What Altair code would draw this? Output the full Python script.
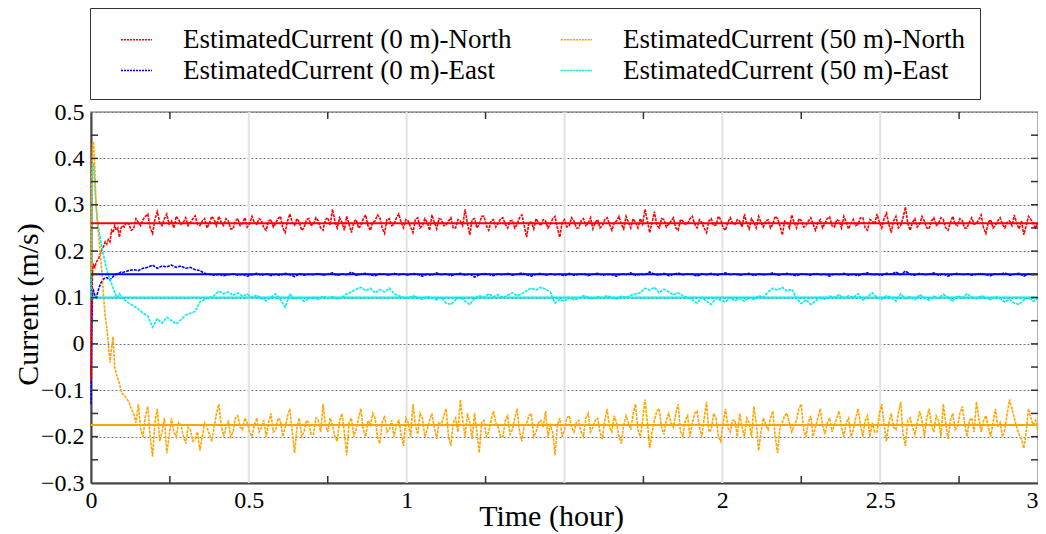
import altair as alt
import pandas as pd

FONT = "Liberation Serif"

series_names = [
    "EstimatedCurrent (0 m)-North",
    "EstimatedCurrent (0 m)-East",
    "EstimatedCurrent (50 m)-North",
    "EstimatedCurrent (50 m)-East",
]
series_colors = ["#ff0000", "#0000ff", "#ffa500", "#00eeee"]
true_values = [0.26, 0.15, -0.175, 0.1]

# time samples (hours)
time_early = [0.0, 0.002, 0.005, 0.008, 0.012, 0.016, 0.020, 0.025, 0.030, 0.035,
              0.040, 0.045, 0.050, 0.055, 0.060, 0.065, 0.070, 0.075, 0.080, 0.085,
              0.090, 0.095, 0.100]
time_main = [round(0.105 + 0.015 * i, 4) for i in range(194)]
time_mid = [round(0.1125 + 0.015 * i, 4) for i in range(193)]

north0_early = [-0.08, 0.08, 0.16, 0.17, 0.165, 0.175, 0.18, 0.185, 0.195, 0.205,
                0.21, 0.22, 0.215, 0.225, 0.22, 0.245, 0.24, 0.255, 0.245, 0.25,
                0.23, 0.25, 0.255]
north0_main = [
    0.252, 0.258, 0.248, 0.262, 0.268, 0.28, 0.238, 0.285, 0.255, 0.28,
    0.265, 0.275, 0.258, 0.272, 0.262, 0.276, 0.255, 0.27, 0.26, 0.268,
    0.275, 0.255, 0.265, 0.248, 0.27, 0.26, 0.252, 0.275, 0.258, 0.266,
    0.245, 0.268, 0.26, 0.275, 0.24, 0.28, 0.256, 0.262, 0.25, 0.27,
    0.258, 0.265, 0.245, 0.272, 0.29, 0.25, 0.262, 0.275, 0.24, 0.268,
    0.255, 0.278, 0.245, 0.265, 0.272, 0.238, 0.27, 0.258, 0.28, 0.25,
    0.265, 0.24, 0.272, 0.255, 0.262, 0.278, 0.248, 0.268, 0.256, 0.272,
    0.25, 0.265, 0.29, 0.235, 0.27, 0.258, 0.275, 0.245, 0.268, 0.26,
    0.272, 0.25, 0.266, 0.258, 0.278, 0.23, 0.262, 0.27, 0.255, 0.265,
    0.258, 0.275, 0.23, 0.268, 0.255, 0.265, 0.25, 0.27, 0.26, 0.248,
    0.268, 0.255, 0.272, 0.245, 0.265, 0.258, 0.275, 0.25, 0.262, 0.27,
    0.29, 0.24, 0.285, 0.25, 0.268, 0.258, 0.272, 0.245, 0.265, 0.26,
    0.275, 0.25, 0.262, 0.24, 0.27, 0.256, 0.268, 0.245, 0.272, 0.258,
    0.265, 0.28, 0.248, 0.262, 0.275, 0.252, 0.268, 0.258, 0.27, 0.235,
    0.262, 0.278, 0.25, 0.266, 0.255, 0.272, 0.245, 0.268, 0.26, 0.274,
    0.252, 0.265, 0.275, 0.248, 0.268, 0.258, 0.272, 0.245, 0.265, 0.28,
    0.25, 0.282, 0.24, 0.275, 0.255, 0.295, 0.245, 0.27, 0.258, 0.265,
    0.248, 0.272, 0.26, 0.268, 0.245, 0.275, 0.255, 0.266, 0.25, 0.272,
    0.26, 0.278, 0.238, 0.268, 0.255, 0.272, 0.25, 0.265, 0.278, 0.248,
    0.235, 0.275, 0.258, 0.262,
]
north0_mid = [
    0.262, 0.245, 0.27, 0.255, 0.275, 0.25, 0.268, 0.262, 0.27, 0.258,
    0.25, 0.268, 0.262, 0.255, 0.27, 0.258, 0.265, 0.25, 0.275, 0.255,
    0.262, 0.27, 0.248, 0.265, 0.255, 0.272, 0.26, 0.262, 0.27, 0.25,
    0.265, 0.252, 0.27, 0.25, 0.265, 0.262, 0.27, 0.245, 0.268, 0.256,
    0.272, 0.25, 0.268, 0.256, 0.265, 0.272, 0.245, 0.258, 0.262, 0.25,
    0.27, 0.255, 0.262, 0.278, 0.25, 0.268, 0.255, 0.272, 0.262, 0.268,
    0.252, 0.268, 0.25, 0.27, 0.245, 0.262, 0.27, 0.255, 0.265, 0.25,
    0.268, 0.255, 0.26, 0.268, 0.25, 0.275, 0.255, 0.265, 0.252, 0.27,
    0.258, 0.265, 0.25, 0.272, 0.255, 0.262, 0.248, 0.262, 0.268, 0.25,
    0.27, 0.25, 0.262, 0.252, 0.272, 0.25, 0.265, 0.255, 0.272, 0.262,
    0.25, 0.268, 0.258, 0.262, 0.275, 0.248, 0.262, 0.27, 0.25, 0.258,
    0.265, 0.262, 0.255, 0.27, 0.252, 0.265, 0.25, 0.268, 0.258, 0.27,
    0.258, 0.268, 0.25, 0.265, 0.255, 0.275, 0.25, 0.262, 0.26, 0.268,
    0.252, 0.26, 0.27, 0.25, 0.262, 0.265, 0.25, 0.275, 0.255, 0.265,
    0.25, 0.262, 0.27, 0.252, 0.265, 0.258, 0.26, 0.25, 0.27, 0.255,
    0.268, 0.25, 0.262, 0.26, 0.255, 0.272, 0.25, 0.268, 0.258, 0.262,
    0.27, 0.258, 0.265, 0.25, 0.272, 0.26, 0.262, 0.252, 0.275, 0.25,
    0.265, 0.255, 0.272, 0.25, 0.262, 0.258, 0.27, 0.25, 0.262, 0.258,
    0.268, 0.25, 0.262, 0.25, 0.265, 0.258, 0.262, 0.255, 0.26, 0.265,
    0.255, 0.268, 0.25,
]

north50_early = [0.15, 0.35, 0.43, 0.435, 0.38, 0.3, 0.26, 0.23, 0.19, 0.15,
                 0.1, 0.06, 0.035, 0.0, -0.04, -0.01, 0.015, -0.05, -0.065, -0.075,
                 -0.085, -0.1, -0.108]
north50_main = [
    -0.11, -0.125, -0.15, -0.13, -0.2, -0.135, -0.243, -0.14, -0.19, -0.236,
    -0.16, -0.2, -0.175, -0.215, -0.185, -0.205, -0.23, -0.17, -0.195, -0.18,
    -0.13, -0.2, -0.165, -0.19, -0.155, -0.185, -0.17, -0.2, -0.16, -0.18,
    -0.2, -0.15, -0.185, -0.165, -0.18, -0.14, -0.235, -0.16, -0.19, -0.17,
    -0.195, -0.165, -0.13, -0.19, -0.175, -0.21, -0.15, -0.24, -0.16, -0.185,
    -0.14, -0.2, -0.175, -0.16, -0.215, -0.155, -0.185, -0.2, -0.165, -0.22,
    -0.17, -0.13, -0.195, -0.16, -0.185, -0.15, -0.205, -0.175, -0.14, -0.22,
    -0.16, -0.12, -0.2, -0.17, -0.15, -0.235, -0.165, -0.19, -0.145, -0.18,
    -0.2, -0.155, -0.185, -0.14, -0.21, -0.17, -0.15, -0.19, -0.165, -0.145,
    -0.175, -0.24, -0.16, -0.185, -0.155, -0.19, -0.165, -0.2, -0.15, -0.18,
    -0.16, -0.205, -0.14, -0.19, -0.17, -0.215, -0.155, -0.185, -0.13, -0.2,
    -0.12, -0.225, -0.165, -0.14, -0.195, -0.15, -0.18, -0.13, -0.2, -0.155,
    -0.17, -0.145, -0.2, -0.125, -0.185, -0.16, -0.21, -0.14, -0.19, -0.165,
    -0.15, -0.2, -0.17, -0.135, -0.23, -0.16, -0.185, -0.145, -0.235, -0.17,
    -0.15, -0.19, -0.165, -0.13, -0.2, -0.155, -0.18, -0.14, -0.195, -0.16,
    -0.175, -0.145, -0.2, -0.16, -0.185, -0.14, -0.2, -0.155, -0.17, -0.19,
    -0.13, -0.21, -0.15, -0.185, -0.125, -0.22, -0.16, -0.195, -0.145, -0.2,
    -0.14, -0.19, -0.165, -0.13, -0.205, -0.15, -0.18, -0.135, -0.2, -0.16,
    -0.125, -0.19, -0.155, -0.2, -0.14, -0.17, -0.185, -0.12, -0.16, -0.195,
    -0.225, -0.14, -0.175, -0.19,
]
north50_mid = [
    -0.118, -0.14, -0.17, -0.185, -0.155, -0.2, -0.17, -0.21, -0.16, -0.2,
    -0.19, -0.17, -0.2, -0.18, -0.21, -0.19, -0.2, -0.18, -0.21, -0.15,
    -0.175, -0.18, -0.2, -0.16, -0.18, -0.16, -0.19, -0.175, -0.19, -0.165,
    -0.17, -0.19, -0.16, -0.2, -0.155, -0.19, -0.18, -0.2, -0.165, -0.195,
    -0.16, -0.19, -0.175, -0.16, -0.2, -0.165, -0.19, -0.17, -0.2, -0.16,
    -0.185, -0.165, -0.15, -0.2, -0.17, -0.19, -0.165, -0.175, -0.195, -0.16,
    -0.2, -0.175, -0.15, -0.2, -0.165, -0.18, -0.17, -0.155, -0.2, -0.17,
    -0.19, -0.165, -0.15, -0.205, -0.19, -0.17, -0.2, -0.165, -0.17, -0.2,
    -0.165, -0.195, -0.16, -0.19, -0.175, -0.155, -0.2, -0.17, -0.18, -0.2,
    -0.19, -0.175, -0.2, -0.16, -0.18, -0.17, -0.19, -0.16, -0.19, -0.165,
    -0.19, -0.165, -0.18, -0.155, -0.2, -0.175, -0.17, -0.15, -0.185, -0.165,
    -0.17, -0.19, -0.145, -0.18, -0.165, -0.17, -0.15, -0.19, -0.165, -0.2,
    -0.15, -0.18, -0.16, -0.19, -0.15, -0.2, -0.17, -0.18, -0.165, -0.2,
    -0.18, -0.16, -0.2, -0.17, -0.19, -0.175, -0.16, -0.2, -0.18, -0.155,
    -0.17, -0.175, -0.14, -0.185, -0.17, -0.2, -0.16, -0.175, -0.17, -0.19,
    -0.16, -0.18, -0.17, -0.2, -0.16, -0.175, -0.165, -0.2, -0.19, -0.15,
    -0.175, -0.17, -0.18, -0.15, -0.195, -0.165, -0.18, -0.17, -0.165, -0.16,
    -0.175, -0.155, -0.2, -0.17, -0.165, -0.185, -0.15, -0.17, -0.165, -0.19,
    -0.16, -0.165, -0.18, -0.17, -0.18, -0.2, -0.15, -0.14, -0.18, -0.205,
    -0.19, -0.16, -0.165,
]

east0_early = [-0.13, 0.02, 0.11, 0.115, 0.105, 0.1, 0.108, 0.12, 0.13, 0.135,
               0.14, 0.142, 0.143, 0.14, 0.138, 0.142, 0.145, 0.148, 0.15, 0.152,
               0.153, 0.155, 0.154]
east0_main = [
    0.155, 0.158, 0.16, 0.158, 0.163, 0.165, 0.17, 0.163, 0.168, 0.166,
    0.17, 0.165, 0.168, 0.163, 0.165, 0.16, 0.158, 0.152, 0.15, 0.148,
    0.15, 0.147, 0.149, 0.151, 0.148, 0.15, 0.146, 0.149, 0.152, 0.148,
    0.151, 0.147, 0.15, 0.148, 0.152, 0.149, 0.145, 0.151, 0.148, 0.15,
    0.149, 0.152, 0.148, 0.15, 0.153, 0.147, 0.151, 0.149, 0.155, 0.148,
    0.15, 0.152, 0.149, 0.147, 0.151, 0.15, 0.148, 0.152, 0.149, 0.151,
    0.148, 0.152, 0.15, 0.146, 0.15, 0.148, 0.153, 0.149, 0.151, 0.147,
    0.15, 0.152, 0.148, 0.151, 0.144, 0.149, 0.152, 0.15, 0.147, 0.151,
    0.149, 0.152, 0.148, 0.15, 0.153, 0.149, 0.146, 0.15, 0.152, 0.148,
    0.151, 0.149, 0.15, 0.147, 0.152, 0.148, 0.15, 0.151, 0.147, 0.15,
    0.152, 0.148, 0.15, 0.149, 0.146, 0.151, 0.149, 0.153, 0.148, 0.15,
    0.149, 0.155, 0.15, 0.148, 0.152, 0.147, 0.15, 0.153, 0.149, 0.151,
    0.15, 0.146, 0.151, 0.149, 0.152, 0.148, 0.15, 0.153, 0.149, 0.151,
    0.148, 0.15, 0.152, 0.147, 0.151, 0.149, 0.15, 0.153, 0.148, 0.15,
    0.152, 0.149, 0.147, 0.151, 0.15, 0.148, 0.152, 0.149, 0.15, 0.146,
    0.151, 0.149, 0.152, 0.148, 0.15, 0.147, 0.151, 0.153, 0.149, 0.15,
    0.148, 0.152, 0.15, 0.155, 0.149, 0.157, 0.15, 0.148, 0.152, 0.149,
    0.15, 0.153, 0.148, 0.151, 0.146, 0.15, 0.152, 0.149, 0.151, 0.148,
    0.15, 0.152, 0.149, 0.147, 0.151, 0.15, 0.153, 0.148, 0.15, 0.152,
    0.146, 0.151, 0.149, 0.15,
]

east50_early = [0.1, 0.3, 0.38, 0.39, 0.34, 0.3, 0.27, 0.245, 0.225, 0.205,
                0.19, 0.175, 0.16, 0.148, 0.14, 0.13, 0.12, 0.112, 0.103, 0.1,
                0.108, 0.104, 0.098]
east50_main = [
    0.095, 0.088, 0.082, 0.075, 0.066, 0.06, 0.036, 0.054, 0.045, 0.057,
    0.05, 0.043, 0.052, 0.062, 0.066, 0.07, 0.09, 0.096, 0.1, 0.104,
    0.114, 0.108, 0.112, 0.105, 0.11, 0.103, 0.107, 0.1, 0.105, 0.098,
    0.093, 0.1, 0.108, 0.095, 0.079, 0.107, 0.096, 0.1, 0.092, 0.098,
    0.1, 0.096, 0.103, 0.098, 0.102, 0.097, 0.1, 0.108, 0.112, 0.118,
    0.122, 0.115, 0.12, 0.11, 0.117, 0.112, 0.12, 0.108, 0.104, 0.1,
    0.098, 0.104, 0.1, 0.096, 0.102, 0.099, 0.095, 0.1, 0.088, 0.085,
    0.095, 0.1, 0.092, 0.085, 0.098, 0.104, 0.1, 0.108, 0.102, 0.106,
    0.1, 0.105, 0.11, 0.104, 0.108, 0.115, 0.12, 0.116, 0.122, 0.118,
    0.112, 0.088, 0.096, 0.092, 0.1, 0.095, 0.098, 0.104, 0.1, 0.097,
    0.102, 0.099, 0.104, 0.1, 0.097, 0.103, 0.1, 0.105, 0.108, 0.11,
    0.12, 0.116, 0.122, 0.11, 0.118, 0.112, 0.106, 0.11, 0.104, 0.1,
    0.095, 0.088, 0.1, 0.092, 0.085, 0.098, 0.094, 0.09, 0.1, 0.093,
    0.098, 0.092, 0.1, 0.096, 0.104, 0.1, 0.112, 0.12, 0.116, 0.122,
    0.114, 0.118, 0.098, 0.087, 0.095, 0.085, 0.092, 0.1, 0.096, 0.103,
    0.1, 0.106, 0.098, 0.104, 0.1, 0.108, 0.095, 0.102, 0.11, 0.1,
    0.096, 0.104, 0.1, 0.092, 0.108, 0.097, 0.102, 0.095, 0.106, 0.1,
    0.094, 0.103, 0.098, 0.107, 0.1, 0.092, 0.104, 0.099, 0.108, 0.101,
    0.097, 0.104, 0.1, 0.095, 0.102, 0.098, 0.09, 0.096, 0.088, 0.085,
    0.095, 0.1, 0.092, 0.098,
]

x_label_vals = [0, 0.5, 1, 2, 2.5, 3]
x_grid_vals = [0.5, 1, 1.5, 2, 2.5]
x_minor_vals = [0.25, 0.75, 1.25, 1.75, 2.25, 2.75]
y_label_vals = [-0.3, -0.2, -0.1, 0, 0.1, 0.2, 0.3, 0.4, 0.5]
y_tick_vals = [-0.25, -0.2, -0.15, -0.1, -0.05, 0, 0.05, 0.1, 0.15, 0.2,
               0.25, 0.3, 0.35, 0.4, 0.45]

W, H = 947, 371
TICK = 7

series_data = [
    ("EstimatedCurrent (0 m)-North", [(time_early, north0_early), (time_main, north0_main), (time_mid, north0_mid)]),
    ("EstimatedCurrent (50 m)-North", [(time_early, north50_early), (time_main, north50_main), (time_mid, north50_mid)]),
    ("EstimatedCurrent (0 m)-East", [(time_early, east0_early), (time_main, east0_main)]),
    ("EstimatedCurrent (50 m)-East", [(time_early, east50_early), (time_main, east50_main)]),
]
rows = []
for name, parts in series_data:
    for ts, vs in parts:
        assert len(ts) == len(vs), (name, len(ts), len(vs))
        for t, v in zip(ts, vs):
            rows.append({"time": t, "value": v, "series": name})
df = pd.DataFrame(rows).sort_values(["series", "time"]).reset_index(drop=True)
truth_df = pd.DataFrame({"series": series_names, "value": true_values})

xs = alt.Scale(domain=[0, 3], nice=False, zero=False)
ys = alt.Scale(domain=[-0.3, 0.5], nice=False, zero=False)
cs = alt.Scale(domain=series_names, range=series_colors)

x_axis = alt.Axis(
    values=x_label_vals, format="~g", title="Time (hour)", grid=False, ticks=False,
    labelFontSize=24, labelPadding=5, labelOverlap=False,
    labelAlign={"condition": {"test": "datum.value == 3", "value": "right"}, "value": "center"},
    titleFontSize=30, titleX=460, titleY=42, titleAlign="center",
    titleBaseline="alphabetic")
y_axis = alt.Axis(
    values=y_label_vals, format="~g", title="Current (m/s)", grid=True,
    gridDash=[2, 2], gridColor="#777", gridWidth=1, ticks=False,
    labelFontSize=24, labelPadding=7, labelOverlap=False,
    titleFontSize=30, titleX=-63, titleY=192, titleAlign="center",
    titleBaseline="middle", titleAngle=270)
legend = alt.Legend(
    title=None, orient="none", legendX=-1, legendY=-104, columns=2,
    symbolType="stroke", symbolSize=961, symbolStrokeWidth=1.5,
    symbolDash=[2, 1], labelFont=FONT, labelFontSize=27, labelLimit=600,
    labelOffset=30, symbolOffset=15, padding=15, rowPadding=1,
    columnPadding=33, strokeColor="#333", fillColor="white")

X = lambda f: alt.X(f, scale=xs, axis=x_axis)
Y = lambda f: alt.Y(f, scale=ys, axis=y_axis)

vgrid = alt.Chart(pd.DataFrame({"time": x_grid_vals})).mark_rule(
    color="#e2e2e2", strokeWidth=2
).encode(x=X("time:Q"))

lines = alt.Chart(df).mark_line(strokeWidth=1.6, strokeDash=[3, 1]).encode(
    x=X("time:Q"), y=Y("value:Q"),
    color=alt.Color("series:N", scale=cs, legend=legend),
)

truth = alt.Chart(truth_df).mark_rule(strokeWidth=2).encode(
    y=Y("value:Q"),
    color=alt.Color("series:N", scale=cs, legend=legend),
)

ytick_df = pd.DataFrame({"value": y_tick_vals})
xtick_df = pd.DataFrame({"time": x_minor_vals})
ticks_left = alt.Chart(ytick_df).mark_rule(color="#333", strokeWidth=1.5).encode(
    y=Y("value:Q"), x=alt.value(0), x2=alt.value(TICK))
ticks_right = alt.Chart(ytick_df).mark_rule(color="#333", strokeWidth=1.5).encode(
    y=Y("value:Q"), x=alt.value(W - TICK), x2=alt.value(W))
ticks_bottom = alt.Chart(xtick_df).mark_rule(color="#333", strokeWidth=1.5).encode(
    x=X("time:Q"), y=alt.value(H), y2=alt.value(H - TICK))
ticks_top = alt.Chart(xtick_df).mark_rule(color="#333", strokeWidth=1.5).encode(
    x=X("time:Q"), y=alt.value(0), y2=alt.value(TICK))

chart = alt.layer(
    vgrid, lines, truth, ticks_left, ticks_right, ticks_bottom, ticks_top
).properties(
    width=W, height=H,
    padding={"left": 83, "top": 104, "right": 0, "bottom": 52},
    autosize=alt.AutoSizeParams(type="none"),
).configure_view(
    stroke="#999", strokeWidth=1.5
).configure_axis(
    domainColor="#444", domainWidth=2, labelFont=FONT, titleFont=FONT,
    labelColor="black", titleColor="black", titleFontWeight="normal"
).configure_legend(labelFont=FONT, labelColor="black")

chart.save("out.html", embed_options={"renderer": "svg", "actions": False})
